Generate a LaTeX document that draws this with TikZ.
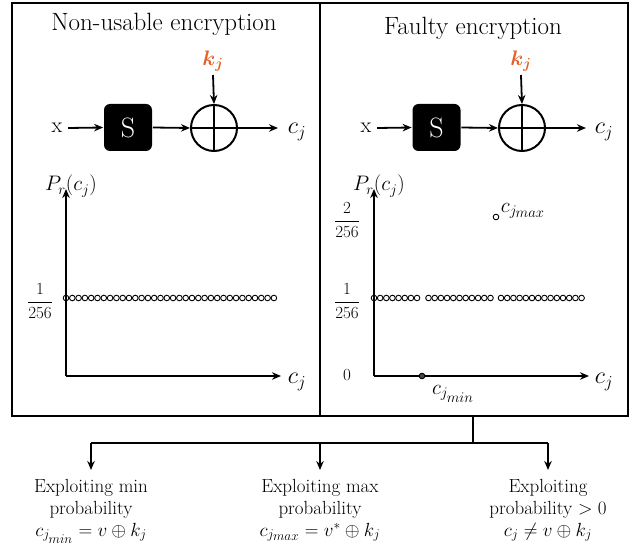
\RequirePackage{fix-cm}
\documentclass[tikz,border=0pt]{standalone}
\usetikzlibrary{arrows.meta}
\definecolor{kcol}{RGB}{228,98,42}
\definecolor{dotfill}{RGB}{70,70,70}
\newcommand\jsb[1]{j_{\scriptstyle #1}}
\begin{document}
\begin{tikzpicture}[x=1pt,y=-1pt, line width=1.8pt,
  >={Stealth[length=9pt,width=7.5pt]},
  sbox/.style={fill=black, rounded corners=6pt, minimum width=48pt, minimum height=47pt, inner sep=0pt, text=white, font=\fontsize{28}{30}\selectfont},
  xorc/.style={circle, draw, line width=2pt, minimum size=46pt, inner sep=0pt},
  pdot/.style={circle, draw, line width=0.9pt, minimum size=5.6pt, inner sep=0pt},
  fdot/.style={circle, draw, fill=dotfill, line width=0.9pt, minimum size=5.6pt, inner sep=0pt},
  ttl/.style={font=\fontsize{25}{29}\selectfont},
  lbl/.style={font=\fontsize{24}{28}\selectfont, inner sep=0pt},
  xl/.style={font=\fontsize{22}{26}\selectfont, inner sep=0pt},
  pl/.style={font=\fontsize{21}{25}\selectfont, inner sep=0pt},
  kl/.style={font=\fontsize{21}{25}\selectfont\boldmath, text=kcol, inner sep=0pt},
  frl/.style={font=\fontsize{17}{20}\selectfont, inner sep=0pt},
  btxt/.style={font=\fontsize{19}{22}\selectfont, align=center, anchor=north, inner sep=0pt}]
\useasboundingbox (0,0) rectangle (641,548);
% frame
\draw[line width=1.3pt] (12,3) rectangle (628,416);
\draw[line width=1.3pt] (320,3) -- (320,416);
\node[ttl] (t1) at (164,24) {Non-usable encryption};
\node[ttl] (t2) at (473,28) {Faulty encryption};

% left chain
\node[xl] (x1) at (57,128) {x};
\node[sbox] (s1) at (128,127.5) {S};
\node[xorc] (o1) at (214,128) {};
\draw[line width=2pt] (o1.north) -- (o1.south) (o1.west) -- (o1.east);
\node[kl] (k1) at (213,61) {$k_j$};
\coordinate (e1) at (278,128);
\node[lbl] (c1) at (297,132) {$c_j$};
\draw[->] (x1.east)+(5,0) -- (s1.west);
\draw[->] (s1.east) -- (o1.west);
\draw[->] (213,75) -- (o1.north);
\draw[->] (o1.east) -- (e1);

% right chain
\node[xl] (x2) at (366,128) {x};
\node[sbox] (s2) at (436.5,127.5) {S};
\node[xorc] (o2) at (522,128) {};
\draw[line width=2pt] (o2.north) -- (o2.south) (o2.west) -- (o2.east);
\node[kl] (k2) at (521,61) {$k_j$};
\coordinate (e2) at (586,128);
\node[lbl] (c2) at (604,132) {$c_j$};
\draw[->] (x2.east)+(5,0) -- (s2.west);
\draw[->] (s2.east) -- (o2.west);
\draw[->] (521,75) -- (o2.north);
\draw[->] (o2.east) -- (e2);

% left plot
\coordinate (O1) at (66,376);
\coordinate (Y1) at (66,189);
\coordinate (X1) at (281,376);
\draw[->] (O1) -- (Y1);
\draw[->] (O1) -- (X1);
\node[pl] (p1) at (71,186) {$P_r(c_j)$};
\node[lbl] (cx1) at (297,382) {$c_j$};
\node[frl] (f1) at (40,301) {$\displaystyle\frac{1}{256}$};
\foreach \i in {0,...,33} \node[pdot] (l\i) at (66+\i*6.3,298) {};

% right plot
\coordinate (O2) at (374,376);
\coordinate (Y2) at (374,189);
\coordinate (X2) at (589,376);
\draw[->] (O2) -- (Y2);
\draw[->] (O2) -- (X2);
\node[pl] (p2) at (379,186) {$P_r(c_j)$};
\node[lbl] (cx2) at (604,382) {$c_j$};
\node[frl] (f2a) at (347,220) {$\displaystyle\frac{2}{256}$};
\node[frl] (f2b) at (347,301) {$\displaystyle\frac{1}{256}$};
\node[frl] (f2c) at (347,375) {$0$};
\foreach \i in {0,...,7} \node[pdot] (ra\i) at (374+\i*6.15,298) {};
\foreach \i in {0,...,10} \node[pdot] (rb\i) at (428.5+\i*6.2,298) {};
\foreach \i in {0,...,13} \node[pdot] (rc\i) at (501+\i*6.2,298) {};
\node[pdot] (cmax) at (496,217) {};
\node[pl, anchor=west] (cmaxl) at (500,211) {$c_{\jsb{max}}$};
\node[fdot] (cmin) at (422,376) {};
\node[pl] (cminl) at (453,394) {$c_{\jsb{min}}$};

% bottom tree
\coordinate (B0) at (473,416);
\coordinate (B1) at (473,443);
\coordinate (BL) at (91,443);
\coordinate (BM) at (320,443);
\coordinate (BR) at (548,443);
\node[btxt] (n1) at (91,478) {Exploiting min\\probability\\$c_{\jsb{min}}=v\oplus k_j$};
\node[btxt] (n2) at (320,478) {Exploiting max\\probability\\$c_{\jsb{max}}=v^{*}\oplus k_j$};
\node[btxt] (n3) at (548,478) {Exploiting\\probability $>0$\\$c_j\neq v\oplus k_j$};
\draw (B0) -- (B1);
\draw (BL) -- (BR);
\draw[->] (BL) -- (91,470);
\draw[->] (BM) -- (320,470);
\draw[->] (BR) -- (548,470);
\end{tikzpicture}
\end{document}
